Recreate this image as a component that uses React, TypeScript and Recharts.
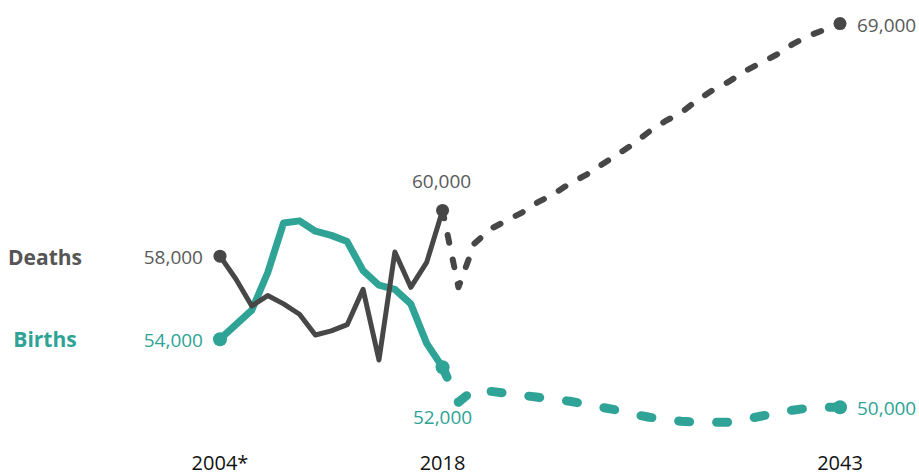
import React from 'react';
import { LineChart, Line, XAxis, YAxis } from 'recharts';

// Solid history 2004–2018, dashed projection 2018–2043
const historyYears = [2004, 2005, 2006, 2007, 2008, 2009, 2010, 2011, 2012, 2013, 2014, 2015, 2016, 2017, 2018];
const deaths = [58000, 56900, 55600, 56100, 55700, 55200, 54200, 54400, 54700, 56400, 53000, 58200, 56500, 57700, 60200];
const births = [54000, 54700, 55400, 57200, 59600, 59700, 59200, 59000, 58700, 57300, 56600, 56400, 55700, 53800, 52650];

const projectionYears = [
  2018, 2019, 2020, 2021, 2022, 2023, 2024, 2025, 2026, 2027, 2028, 2029, 2030,
  2031, 2032, 2033, 2034, 2035, 2036, 2037, 2038, 2039, 2040, 2041, 2042, 2043,
];
const deathsProjection = [
  60200, 56500, 58600, 59300, 59700, 60100, 60600, 61000, 61500, 61900, 62400, 62900, 63400,
  64000, 64500, 64900, 65500, 66000, 66400, 66900, 67300, 67700, 68200, 68600, 68900, 69200,
];
const birthsProjection = [
  52650, 50960, 51590, 51490, 51400, 51300, 51200, 51110, 51010, 50870, 50720, 50580, 50390,
  50240, 50140, 50050, 50000, 50000, 50000, 50140, 50290, 50430, 50580, 50680, 50720, 50720,
];

const xTicks = [2004, 2018, 2043];

const DARK = '#474747';
const TEAL = '#2ea396';
const FONT = '"Open Sans", "Noto Sans", sans-serif';

const data = [];
for (let y = 2004; y <= 2043; y++) {
  const h = historyYears.indexOf(y);
  const p = projectionYears.indexOf(y);
  data.push({
    year: y,
    deaths: h >= 0 ? deaths[h] : null,
    births: h >= 0 ? births[h] : null,
    deathsProj: p >= 0 ? deathsProjection[p] : null,
    birthsProj: p >= 0 ? birthsProjection[p] : null,
  });
}

type Note = { text: string; dx: number; dy: number; anchor: 'start' | 'middle' | 'end'; bold?: boolean; size?: number; color?: string };

// draws the end-point dot plus its value / series labels, nothing for other points
const makeDot = (color: string, r: number, notes: Record<number, Note[]>) => (props: any) => {
  const { cx, cy, payload, index } = props;
  const list = notes[payload.year];
  if (!list || cx == null || cy == null) return <g key={`e-${index}`} />;
  return (
    <g key={`d-${index}`}>
      <circle cx={cx} cy={cy} r={r} fill={color} />
      {list.map((n, i) => (
        <text
          key={i}
          x={cx + n.dx}
          y={cy + n.dy}
          textAnchor={n.anchor}
          dominantBaseline="central"
          fill={n.color ?? color}
          fontFamily={FONT}
          fontSize={n.size ?? 19}
          fontWeight={n.bold ? 700 : 400}
        >
          {n.text}
        </text>
      ))}
    </g>
  );
};

const deathsDot = makeDot(DARK, 6.5, {
  2004: [
    { text: '58,000', dx: -17, dy: 1, anchor: 'end', color: '#595959' },
    { text: 'Deaths', dx: -175, dy: 1, anchor: 'middle', bold: true, size: 21, color: '#555555' },
  ],
  2018: [{ text: '60,000', dx: -1, dy: -29, anchor: 'middle', color: '#595959' }],
});
const birthsDot = makeDot(TEAL, 7, {
  2004: [
    { text: '54,000', dx: -17, dy: 1, anchor: 'end' },
    { text: 'Births', dx: -175, dy: 0, anchor: 'middle', bold: true, size: 21 },
  ],
  2018: [{ text: '52,000', dx: 0, dy: 50, anchor: 'middle' }],
});
const deathsProjDot = makeDot(DARK, 6.5, {
  2043: [{ text: '69,000', dx: 17, dy: 1, anchor: 'start', color: '#595959' }],
});
const birthsProjDot = makeDot(TEAL, 7, {
  2043: [{ text: '50,000', dx: 17, dy: 1, anchor: 'start' }],
});

export default function App() {
  return (
    <div style={{ position: 'absolute', left: 0, top: 0, background: '#fff' }}>
      <LineChart width={919} height={475} data={data} margin={{ top: 7, right: 79, left: 220, bottom: 0 }}>
        <XAxis
          dataKey="year"
          type="number"
          domain={[2004, 2043]}
          ticks={xTicks}
          tickFormatter={(v) => (v === 2004 ? '2004*' : String(v))}
          axisLine={false}
          tickLine={false}
          tickMargin={7}
          height={32}
          tick={{ fill: '#111111', fontSize: 20, fontFamily: FONT }}
          interval={0}
        />
        <YAxis hide domain={[49000, 70000]} />
        <Line
          dataKey="birthsProj"
          stroke={TEAL}
          strokeWidth={9}
          strokeDasharray="11 27"
          strokeLinecap="round"
          strokeLinejoin="round"
          dot={birthsProjDot}
          activeDot={false}
          isAnimationActive={false}
        />
        <Line
          dataKey="deathsProj"
          stroke={DARK}
          strokeWidth={6}
          strokeDasharray="8 17"
          strokeLinecap="round"
          strokeLinejoin="round"
          dot={deathsProjDot}
          activeDot={false}
          isAnimationActive={false}
        />
        <Line
          dataKey="births"
          stroke={TEAL}
          strokeWidth={7}
          strokeLinejoin="round"
          strokeLinecap="round"
          dot={birthsDot}
          activeDot={false}
          isAnimationActive={false}
        />
        <Line
          dataKey="deaths"
          stroke={DARK}
          strokeWidth={5}
          strokeLinejoin="round"
          strokeLinecap="round"
          dot={deathsDot}
          activeDot={false}
          isAnimationActive={false}
        />
      </LineChart>
    </div>
  );
}
